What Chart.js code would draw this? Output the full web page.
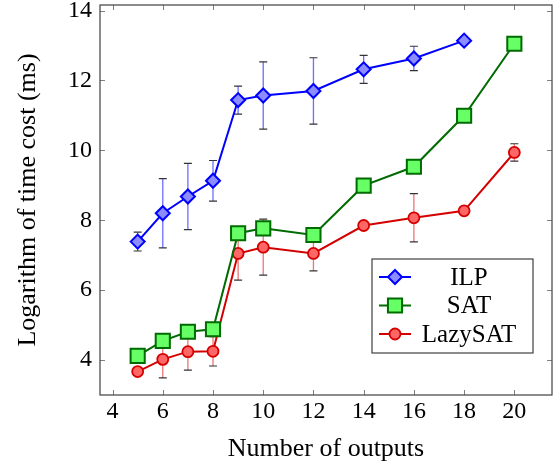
<!DOCTYPE html>
<html>
<head>
<meta charset="utf-8">
<script src="https://cdn.jsdelivr.net/npm/chart.js@4"></script>
<style>
  body { margin: 0; background: #fff; }
  #wrap { width: 558px; height: 469px; }
</style>
</head>
<body>
<div id="wrap"><canvas id="timeChart" width="558" height="469"></canvas></div>
<script>
// Ukuran problem (jumlah output) dan hasil rata-rata log waktu
const ilpOutputs = [5, 6, 7, 8, 9, 10, 12, 14, 16, 18];
const ilpTime    = [7.39, 8.20, 8.68, 9.13, 11.44, 11.57, 11.70, 12.32, 12.63, 13.14];
const ilpErr     = [0.27, 0.99, 0.95, 0.58, 0.40, 0.96, 0.95, 0.40, 0.35, 0];

const satOutputs = [5, 6, 7, 8, 9, 10, 12, 14, 16, 18, 20];
const satTime    = [4.12, 4.55, 4.81, 4.88, 7.63, 7.77, 7.58, 8.99, 9.53, 10.99, 13.05];

const lazyOutputs = [5, 6, 7, 8, 9, 10, 12, 14, 16, 18, 20];
const lazyTime    = [3.67, 4.02, 4.24, 4.25, 7.05, 7.23, 7.05, 7.85, 8.07, 8.27, 9.94];
const lazyErr     = [0, 0.53, 0.53, 0.42, 0.76, 0.80, 0.50, 0, 0.69, 0, 0.25];

const xTicks = [4, 6, 8, 10, 12, 14, 16, 18, 20];
const yTicks = [4, 6, 8, 10, 12, 14];

const FONT = "'Liberation Serif', 'Times New Roman', serif";

function toPoints(xs, ys) {
  return xs.map((x, i) => ({ x: x, y: ys[i] }));
}

// buang padding label supaya area plot tetap
function noPad(s) {
  s.paddingTop = 0; s.paddingBottom = 0;
  s.paddingLeft = 0; s.paddingRight = 0;
}

// error bar: garis warna terang + cap abu-abu gelap
const errorBars = {
  id: 'errorBars',
  beforeDatasetsDraw(chart) {
    const ctx = chart.ctx;
    const xs = chart.scales.x, ys = chart.scales.y;
    chart.data.datasets.forEach(ds => {
      if (!ds.errors) return;
      ds.data.forEach((p, i) => {
        const e = ds.errors[i];
        if (!e) return;
        const px = xs.getPixelForValue(p.x);
        const top = ys.getPixelForValue(p.y + e);
        const bot = ys.getPixelForValue(p.y - e);
        ctx.save();
        ctx.strokeStyle = ds.errorColor;
        ctx.lineWidth = 1.3;
        ctx.beginPath();
        ctx.moveTo(px, top);
        ctx.lineTo(px, bot);
        ctx.stroke();
        ctx.strokeStyle = '#333';
        ctx.lineWidth = 1.2;
        ctx.beginPath();
        ctx.moveTo(px - 4, top); ctx.lineTo(px + 4, top);
        ctx.moveTo(px - 4, bot); ctx.lineTo(px + 4, bot);
        ctx.stroke();
        ctx.restore();
      });
    });
  }
};

// bingkai plot + tick ke dalam di keempat sisi
const frameTicks = {
  id: 'frameTicks',
  afterDatasetsDraw(chart) {
    const ctx = chart.ctx;
    const a = chart.chartArea;
    const xs = chart.scales.x, ys = chart.scales.y;
    ctx.save();
    ctx.strokeStyle = '#808080';
    ctx.lineWidth = 1;
    ctx.beginPath();
    xTicks.forEach(v => {
      const px = Math.round(xs.getPixelForValue(v)) + 0.5;
      ctx.moveTo(px, a.bottom); ctx.lineTo(px, a.bottom - 5);
      ctx.moveTo(px, a.top); ctx.lineTo(px, a.top + 5);
    });
    yTicks.forEach(v => {
      const py = Math.round(ys.getPixelForValue(v)) + 0.5;
      ctx.moveTo(a.left, py); ctx.lineTo(a.left + 5, py);
      ctx.moveTo(a.right, py); ctx.lineTo(a.right - 5, py);
    });
    ctx.stroke();
    ctx.strokeStyle = '#404040';
    ctx.lineWidth = 1.2;
    ctx.strokeRect(a.left, a.top, a.right - a.left, a.bottom - a.top);
    ctx.restore();
  }
};

// legend di pojok kanan bawah
const boxLegend = {
  id: 'boxLegend',
  afterDraw(chart) {
    const ctx = chart.ctx;
    const bx = 372, by = 259, bw = 161, bh = 94;
    ctx.save();
    ctx.fillStyle = '#fff';
    ctx.fillRect(bx, by, bw, bh);
    ctx.strokeStyle = '#404040';
    ctx.lineWidth = 1.2;
    ctx.strokeRect(bx, by, bw, bh);
    ctx.font = '25px ' + FONT;
    ctx.textAlign = 'center';
    ctx.textBaseline = 'middle';
    chart.data.datasets.forEach((ds, i) => {
      const cy = by + 18 + i * 28.5;
      ctx.strokeStyle = ds.borderColor;
      ctx.lineWidth = ds.borderWidth;
      ctx.beginPath();
      ctx.moveTo(bx + 7, cy);
      ctx.lineTo(bx + 39, cy);
      ctx.stroke();
      ctx.fillStyle = ds.pointBackgroundColor;
      ctx.strokeStyle = ds.pointBorderColor;
      ctx.lineWidth = ds.pointBorderWidth;
      Chart.helpers.drawPoint(ctx, {
        pointStyle: ds.pointStyle,
        radius: ds.pointRadius,
        borderWidth: ds.pointBorderWidth
      }, bx + 23, cy);
      ctx.fillStyle = '#000';
      ctx.fillText(ds.label, bx + 97, cy + 1);
    });
    ctx.restore();
  }
};

new Chart(document.getElementById('timeChart'), {
  type: 'line',
  data: {
    datasets: [
      {
        label: 'ILP',
        data: toPoints(ilpOutputs, ilpTime),
        errors: ilpErr,
        errorColor: 'rgba(60,60,255,0.75)',
        borderColor: '#0000ff',
        borderWidth: 2,
        pointStyle: 'rectRot',
        pointRadius: 7,
        pointBorderWidth: 2,
        pointBackgroundColor: '#8c8cff',
        pointBorderColor: '#0000ff',
        tension: 0
      },
      {
        label: 'SAT',
        data: toPoints(satOutputs, satTime),
        borderColor: '#006b00',
        borderWidth: 2,
        pointStyle: 'rect',
        pointRadius: 10,
        pointBorderWidth: 2,
        pointBackgroundColor: '#66ff66',
        pointBorderColor: '#006b00',
        tension: 0
      },
      {
        label: 'LazySAT',
        data: toPoints(lazyOutputs, lazyTime),
        errors: lazyErr,
        errorColor: 'rgba(225,60,60,0.7)',
        borderColor: '#d40000',
        borderWidth: 2,
        pointStyle: 'circle',
        pointRadius: 5.5,
        pointBorderWidth: 1.8,
        pointBackgroundColor: '#ff6666',
        pointBorderColor: '#d40000',
        tension: 0
      }
    ]
  },
  options: {
    responsive: false,
    animation: false,
    layout: { autoPadding: false, padding: { left: 13, top: 5, right: 6, bottom: 4 } },
    plugins: {
      legend: { display: false },
      tooltip: { enabled: false }
    },
    scales: {
      x: {
        type: 'linear',
        min: 3.5,
        max: 21.5,
        afterBuildTicks: s => { s.ticks = xTicks.map(v => ({ value: v })); },
        afterFit: s => { s.height = 70; noPad(s); },
        grid: { display: false, drawTicks: false },
        border: { display: false },
        ticks: { padding: 2, color: '#000', font: { family: FONT, size: 24 } },
        title: {
          display: true,
          text: 'Number of outputs',
          padding: 0,
          color: '#000',
          font: { family: FONT, size: 26 }
        }
      },
      y: {
        min: 3,
        max: 14.16,
        afterBuildTicks: s => { s.ticks = yTicks.map(v => ({ value: v })); },
        afterFit: s => { s.width = 87; noPad(s); },
        grid: { display: false, drawTicks: false },
        border: { display: false },
        ticks: { padding: 8, color: '#000', font: { family: FONT, size: 24 } },
        title: {
          display: true,
          text: 'Logarithm of time cost (ms)',
          padding: 0,
          color: '#000',
          font: { family: FONT, size: 26 }
        }
      }
    }
  },
  plugins: [errorBars, frameTicks, boxLegend]
});
</script>
</body>
</html>
